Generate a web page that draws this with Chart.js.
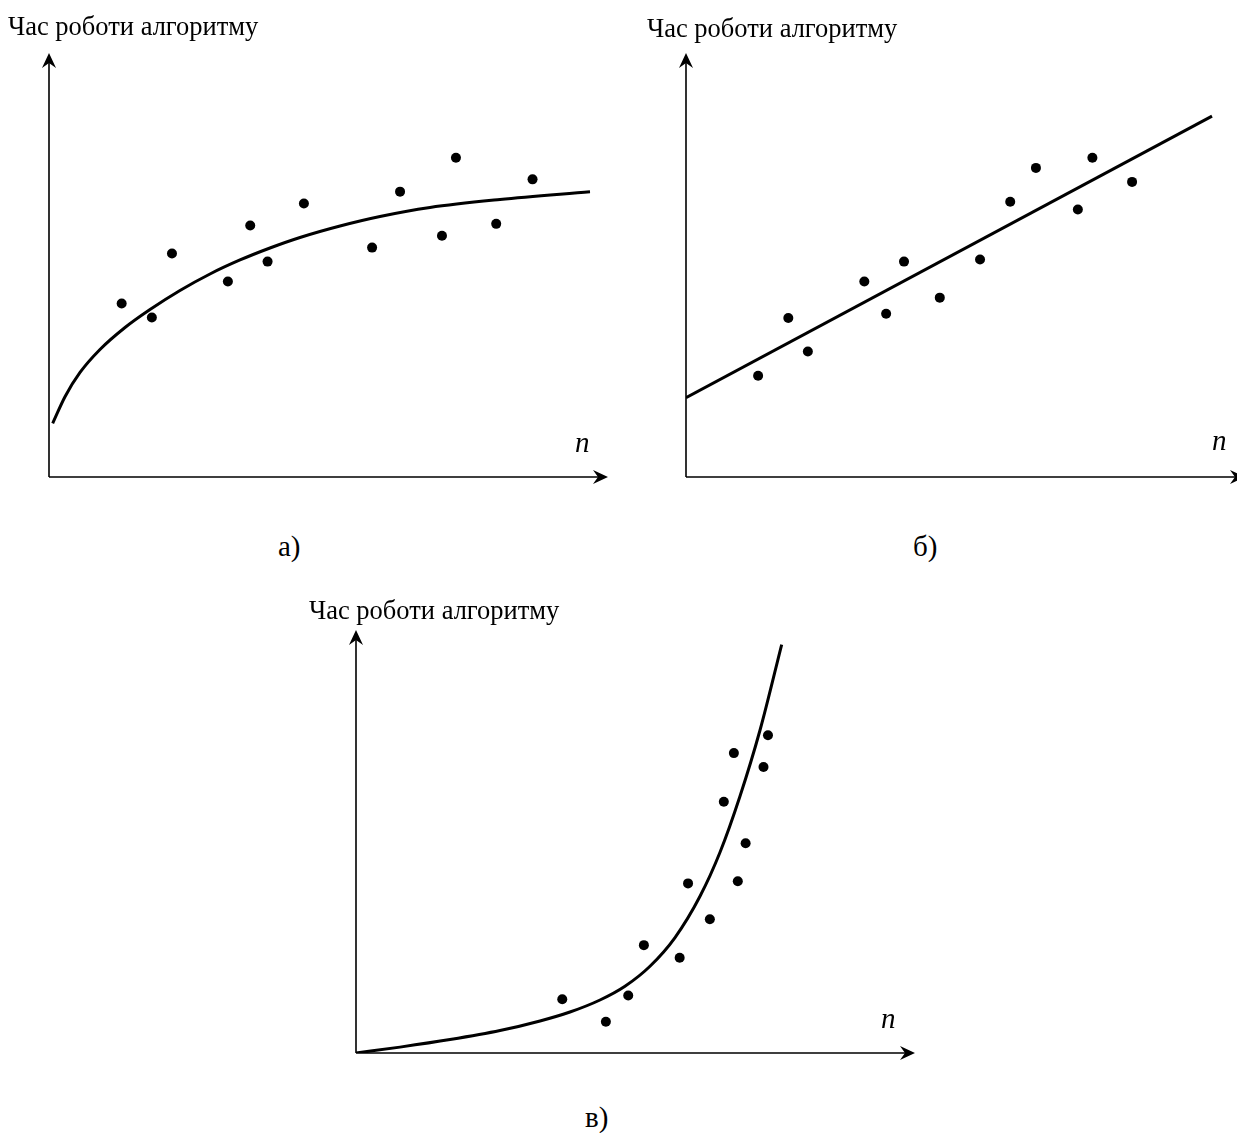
<!DOCTYPE html>
<html>
<head>
<meta charset="utf-8">
<title>Час роботи алгоритму</title>
<script src="https://cdn.jsdelivr.net/npm/chart.js@4"></script>
<style>
    html, body {
        margin: 0;
        padding: 0;
        width: 1237px;
        height: 1133px;
        overflow: hidden;
        background: #fff;
    }
    .panel {
        position: absolute;
    }
    .lbl {
        position: absolute;
        font-family: "Liberation Serif", "Times New Roman", serif;
        font-size: 26.5px;
        line-height: 27px;
        color: #000;
        white-space: nowrap;
    }
    .lbl.n {
        font-style: italic;
        font-size: 29px;
        line-height: 29px;
    }
    .lbl.cap {
        font-size: 29px;
        line-height: 29px;
    }
</style>
</head>
<body>

<canvas id="chartA" class="panel" width="599" height="464" style="left:29px; top:33px;"></canvas>
<canvas id="chartB" class="panel" width="599" height="464" style="left:666px; top:33px;"></canvas>
<canvas id="chartC" class="panel" width="599" height="463" style="left:336px; top:610px;"></canvas>

<div id="titleA" class="lbl" style="left:8px; top:13px;"></div>
<div id="titleB" class="lbl" style="left:647px; top:15px;"></div>
<div id="titleC" class="lbl" style="left:309px; top:597px;"></div>

<div id="nA" class="lbl n" style="left:575px; top:428px;"></div>
<div id="nB" class="lbl n" style="left:1212px; top:426px;"></div>
<div id="nC" class="lbl n" style="left:881px; top:1004px;"></div>

<div id="capA" class="lbl cap" style="left:278px; top:532px;"></div>
<div id="capB" class="lbl cap" style="left:913px; top:532px;"></div>
<div id="capC" class="lbl cap" style="left:585px; top:1103px;"></div>

<script>
// texts
const yAxisTitle = 'Час роботи алгоритму';
const xAxisTitle = 'n';
const panelLabels = ['а)', 'б)', 'в)'];

// axis range (arbitrary units, no ticks shown)
const axisMin = 0;
const axisMax = 100;

// а) logarithmic growth
const logPointsX = [13.0, 18.4, 22.0, 32.0, 36.0, 39.1, 45.6, 57.8, 62.8, 70.3, 72.8, 80.0, 86.5];
const logPointsY = [40.9, 37.6, 52.7, 46.1, 59.3, 50.8, 64.5, 54.1, 67.3, 56.9, 75.3, 59.7, 70.2];
const logCurveX = [0.66, 2.86, 5.55, 9.12, 13.6, 18.07, 23.43, 28.8, 34.17, 39.53, 44.9, 52.06, 59.21, 68.16, 80.68, 96.78];
const logCurveY = [12.67, 18.94, 24.65, 30.07, 35.26, 39.5, 43.99, 47.88, 51.18, 54.01, 56.49, 59.2, 61.44, 63.56, 65.45, 67.29];

// б) linear growth
const linPointsX = [12.9, 18.3, 21.8, 31.9, 35.8, 39.0, 45.4, 52.6, 58.0, 62.6, 70.1, 72.7, 79.8];
const linPointsY = [23.9, 37.5, 29.6, 46.1, 38.5, 50.8, 42.3, 51.3, 64.9, 72.9, 63.1, 75.3, 69.6];
const linCurveX = [0, 94.1];
const linCurveY = [18.7, 85.1];

// в) exponential growth
const expPointsX = [36.9, 44.7, 48.7, 51.5, 57.9, 59.4, 63.3, 65.8, 68.3, 67.6, 69.7, 72.9, 73.7];
const expPointsY = [12.7, 7.4, 13.6, 25.5, 22.5, 40.1, 31.6, 59.4, 40.6, 70.9, 49.6, 67.6, 75.1];
const expCurveX = [0, 7.87, 16.82, 25.76, 32.92, 38.28, 43.65, 48.12, 52.59, 57.07, 61.54, 65.12, 68.69, 72.27, 76.15];
const expCurveY = [0, 1.39, 3.17, 5.3, 7.57, 9.69, 12.53, 15.78, 20.51, 27.3, 37.06, 47.46, 60.7, 76.3, 96.57];

function toXY(xs, ys) {
    return xs.map((x, i) => ({ x: x, y: ys[i] }));
}

// axes with arrow heads, drawn on the chart's own scales
const arrowAxes = {
    id: 'arrowAxes',
    beforeDatasetsDraw(chart) {
        const ctx = chart.ctx;
        const sx = chart.scales.x;
        const sy = chart.scales.y;
        const x0 = sx.getPixelForValue(axisMin);
        const y0 = sy.getPixelForValue(axisMin);
        const xEnd = sx.getPixelForValue(axisMax);
        const yEnd = sy.getPixelForValue(axisMax);
        const len = 15, half = 7, notch = 10;

        ctx.save();
        ctx.strokeStyle = '#000';
        ctx.fillStyle = '#000';
        ctx.lineWidth = 1.6;

        ctx.beginPath();
        ctx.moveTo(x0, y0);
        ctx.lineTo(xEnd - notch, y0);
        ctx.moveTo(x0, y0);
        ctx.lineTo(x0, yEnd + notch);
        ctx.stroke();

        // x arrow
        ctx.beginPath();
        ctx.moveTo(xEnd, y0);
        ctx.lineTo(xEnd - len, y0 - half);
        ctx.lineTo(xEnd - notch, y0);
        ctx.lineTo(xEnd - len, y0 + half);
        ctx.closePath();
        ctx.fill();

        // y arrow
        ctx.beginPath();
        ctx.moveTo(x0, yEnd);
        ctx.lineTo(x0 - half, yEnd + len);
        ctx.lineTo(x0, yEnd + notch);
        ctx.lineTo(x0 + half, yEnd + len);
        ctx.closePath();
        ctx.fill();
        ctx.restore();
    }
};

function makeChart(canvasId, pointsX, pointsY, curveX, curveY) {
    const ctx = document.getElementById(canvasId);
    return new Chart(ctx, {
        type: 'scatter',
        data: {
            datasets: [
                {
                    label: 'curve',
                    data: toXY(curveX, curveY),
                    showLine: true,
                    borderColor: '#000',
                    borderWidth: 3,
                    pointRadius: 0,
                    cubicInterpolationMode: 'monotone',
                    fill: false
                },
                {
                    label: 'measurements',
                    data: toXY(pointsX, pointsY),
                    showLine: false,
                    backgroundColor: '#000',
                    borderWidth: 0,
                    pointRadius: 5
                }
            ]
        },
        options: {
            responsive: false,
            animation: false,
            layout: { padding: 20 },
            plugins: {
                legend: { display: false },
                tooltip: { enabled: false }
            },
            scales: {
                x: { type: 'linear', min: axisMin, max: axisMax, display: false },
                y: { type: 'linear', min: axisMin, max: axisMax, display: false }
            }
        },
        plugins: [arrowAxes]
    });
}

makeChart('chartA', logPointsX, logPointsY, logCurveX, logCurveY);
makeChart('chartB', linPointsX, linPointsY, linCurveX, linCurveY);
makeChart('chartC', expPointsX, expPointsY, expCurveX, expCurveY);

['titleA', 'titleB', 'titleC'].forEach(id => {
    document.getElementById(id).textContent = yAxisTitle;
});
['nA', 'nB', 'nC'].forEach(id => {
    document.getElementById(id).textContent = xAxisTitle;
});
['capA', 'capB', 'capC'].forEach((id, i) => {
    document.getElementById(id).textContent = panelLabels[i];
});
</script>
</body>
</html>
